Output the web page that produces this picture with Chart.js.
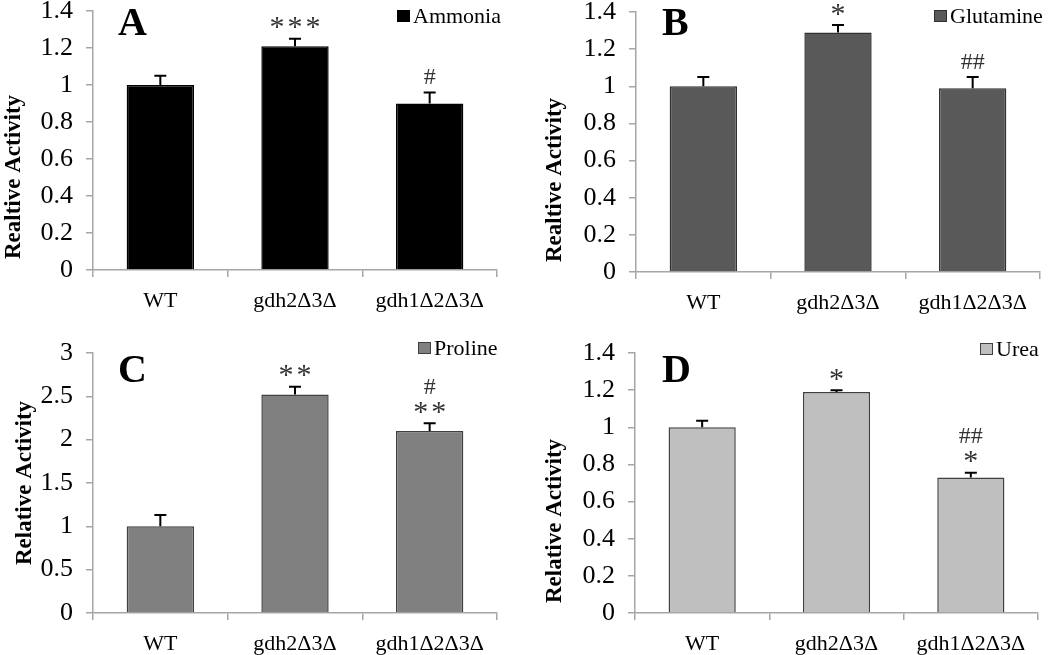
<!DOCTYPE html>
<html>
<head>
<meta charset="utf-8">
<script src="https://cdn.jsdelivr.net/npm/chart.js@4.4.1/dist/chart.umd.min.js"></script>
<style>
  body { margin: 0; background: #fff; }
  #wrap { position: relative; width: 1050px; height: 655px; overflow: hidden; }
  #wrap canvas { position: absolute; }
</style>
</head>
<body>
<div id="wrap">
  <canvas id="chartA" width="525" height="327" style="left:0;top:0"></canvas>
  <canvas id="chartB" width="525" height="327" style="left:525px;top:0"></canvas>
  <canvas id="chartC" width="525" height="330" style="left:0;top:325px"></canvas>
  <canvas id="chartD" width="525" height="330" style="left:525px;top:325px"></canvas>
</div>
<script>
// strains on the x axis
const strains = ['WT', 'gdh2Δ3Δ', 'gdh1Δ2Δ3Δ'];

// relative activity per nitrogen source, and the upper error bars
const ammonia = [1.0, 1.21, 0.90];
const ammoniaErr = [0.05, 0.04, 0.06];
const glutamine = [1.0, 1.29, 0.99];
const glutamineErr = [0.05, 0.04, 0.06];
const proline = [1.0, 2.52, 2.10];
const prolineErr = [0.13, 0.09, 0.09];
const urea = [1.0, 1.19, 0.73];
const ureaErr = [0.035, 0.01, 0.025];

// significance marks above each bar (bottom line first)
const ammoniaMarks = [[], ['***'], ['#']];
const glutamineMarks = [[], ['*'], ['##']];
const prolineMarks = [[], ['**'], ['**', '#']];
const ureaMarks = [[], ['*'], ['*', '##']];

// y tick labels
const ticksSmall = [0, 0.2, 0.4, 0.6, 0.8, 1, 1.2, 1.4];
const ticksProline = [0, 0.5, 1, 1.5, 2, 2.5, 3];

const serif = "'Liberation Serif', 'Times New Roman', serif";
const axisGray = '#a6a6a6';

// draws text centred on (cx, cy) by its real glyph box; stars get a little extra spacing
function drawCentered(ctx, str, cx, cy) {
    const gap = 3;
    const chars = str.split('');
    const widths = chars.map(c => ctx.measureText(c).width + (c === '*' ? gap : 0));
    let total = widths.reduce((a, b) => a + b, 0);
    if (str.indexOf('*') >= 0) total -= gap;
    const m = ctx.measureText(str);
    const base = cy + (m.actualBoundingBoxAscent - m.actualBoundingBoxDescent) / 2;
    let x = cx - total / 2;
    ctx.textAlign = 'left';
    ctx.textBaseline = 'alphabetic';
    chars.forEach((c, i) => {
        ctx.fillText(c, x, base);
        x += widths[i];
    });
}

const deco = {
    id: 'deco',
    afterDatasetsDraw(chart, args, opts) {
        const ctx = chart.ctx;
        const xs = chart.scales.x, ys = chart.scales.y;
        const vals = chart.data.datasets[0].data;
        ctx.save();
        vals.forEach((v, i) => {
            const px = xs.getPixelForValue(i);
            const y0 = ys.getPixelForValue(v);
            const y1 = ys.getPixelForValue(v + opts.err[i]);
            ctx.strokeStyle = '#000';
            ctx.lineWidth = 2;
            ctx.beginPath();
            ctx.moveTo(px, y0);
            ctx.lineTo(px, y1);
            ctx.moveTo(px - 6, y1);
            ctx.lineTo(px + 6, y1);
            ctx.stroke();

            ctx.fillStyle = '#333';
            opts.marks[i].forEach((s, k) => {
                ctx.font = (s.indexOf('*') >= 0 ? '30px ' : '24px ') + serif;
                drawCentered(ctx, s, px, y1 - 16 - k * 21);
            });
        });
        ctx.restore();
    },
    afterDraw(chart, args, opts) {
        const ctx = chart.ctx;
        ctx.save();
        // panel letter
        ctx.font = 'bold 40px ' + serif;
        ctx.fillStyle = '#000';
        ctx.textAlign = 'left';
        ctx.textBaseline = 'alphabetic';
        ctx.fillText(opts.letter.text, opts.letter.x, opts.letter.y);

        // y axis title
        const t = opts.ytitle;
        ctx.save();
        ctx.translate(t.x, t.y);
        ctx.rotate(-Math.PI / 2);
        ctx.font = 'bold 23px ' + serif;
        ctx.textAlign = 'center';
        ctx.textBaseline = 'middle';
        ctx.fillText(t.text, 0, 0);
        ctx.restore();

        // legend
        const lg = opts.legend;
        ctx.fillStyle = lg.color;
        ctx.fillRect(lg.x, lg.y - 6, 13, 12);
        ctx.strokeStyle = lg.border;
        ctx.lineWidth = 1;
        ctx.strokeRect(lg.x + 0.5, lg.y - 5.5, 12, 11);
        ctx.font = '22px ' + serif;
        ctx.fillStyle = '#000';
        ctx.textAlign = 'left';
        ctx.textBaseline = 'alphabetic';
        const m = ctx.measureText(lg.text);
        ctx.fillText(lg.text, lg.x + 16, lg.y + (m.actualBoundingBoxAscent - m.actualBoundingBoxDescent) / 2);
        ctx.restore();
    }
};

function makePanel(id, cfg) {
    new Chart(document.getElementById(id), {
        type: 'bar',
        data: {
            labels: strains,
            datasets: [{
                label: cfg.legend.text,
                data: cfg.values,
                backgroundColor: cfg.fill,
                borderColor: cfg.border,
                borderWidth: 1.5,
                categoryPercentage: 1,
                barPercentage: 0.5
            }]
        },
        options: {
            responsive: false,
            animation: false,
            layout: { padding: { top: cfg.area.top, right: cfg.area.right, left: 0, bottom: 0 } },
            plugins: {
                legend: { display: false },
                tooltip: { enabled: false },
                deco: { err: cfg.err, marks: cfg.marks, letter: cfg.letter, legend: cfg.legend, ytitle: cfg.ytitle }
            },
            scales: {
                x: {
                    grid: { display: true, drawOnChartArea: false, drawTicks: true, tickLength: 7, color: axisGray, lineWidth: 1.5, offset: true },
                    border: { display: true, color: axisGray, width: 1.5 },
                    ticks: { color: '#000', padding: 11, font: { family: serif, size: 22 } },
                    afterFit: s => { s.height = cfg.area.xh; s.paddingLeft = 0; s.paddingRight = 0; }
                },
                y: {
                    min: cfg.ticks[0],
                    max: cfg.ticks[cfg.ticks.length - 1],
                    afterBuildTicks: s => { s.ticks = cfg.ticks.map(v => ({ value: v })); },
                    grid: { display: true, drawOnChartArea: false, drawTicks: true, tickLength: 7, color: axisGray, lineWidth: 1.5 },
                    border: { display: true, color: axisGray, width: 1.5 },
                    ticks: { color: '#000', padding: 13, font: { family: serif, size: 26 }, callback: v => String(v) },
                    afterFit: s => { s.width = cfg.area.yw; s.paddingTop = 0; s.paddingBottom = 0; }
                }
            }
        },
        plugins: [deco]
    });
}

makePanel('chartA', {
    values: ammonia, err: ammoniaErr, marks: ammoniaMarks, ticks: ticksSmall,
    fill: '#000000', border: '#000000',
    ytitle: { text: 'Realtive Activity', x: 14, y: 177 },
    area: { top: 11, right: 28, yw: 93, xh: 57 },
    letter: { text: 'A', x: 118, y: 35 },
    legend: { text: 'Ammonia', x: 397, y: 16, color: '#000000', border: '#000000' }
});
makePanel('chartB', {
    values: glutamine, err: glutamineErr, marks: glutamineMarks, ticks: ticksSmall,
    fill: '#595959', border: '#303030',
    ytitle: { text: 'Realtive Activity', x: 30, y: 180 },
    area: { top: 12, right: 10, yw: 111, xh: 55 },
    letter: { text: 'B', x: 137, y: 35 },
    legend: { text: 'Glutamine', x: 409, y: 16, color: '#595959', border: '#303030' }
});
makePanel('chartC', {
    values: proline, err: prolineErr, marks: prolineMarks, ticks: ticksProline,
    fill: '#808080', border: '#404040',
    ytitle: { text: 'Relative Activity', x: 25, y: 158 },
    area: { top: 28, right: 28, yw: 93, xh: 42 },
    letter: { text: 'C', x: 118, y: 57 },
    legend: { text: 'Proline', x: 418, y: 23, color: '#808080', border: '#404040' }
});
makePanel('chartD', {
    values: urea, err: ureaErr, marks: ureaMarks, ticks: ticksSmall,
    fill: '#bfbfbf', border: '#404040',
    ytitle: { text: 'Relative Activity', x: 30, y: 196 },
    area: { top: 28, right: 12, yw: 110, xh: 42 },
    letter: { text: 'D', x: 137, y: 57 },
    legend: { text: 'Urea', x: 455, y: 24, color: '#bfbfbf', border: '#404040' }
});
</script>
</body>
</html>
